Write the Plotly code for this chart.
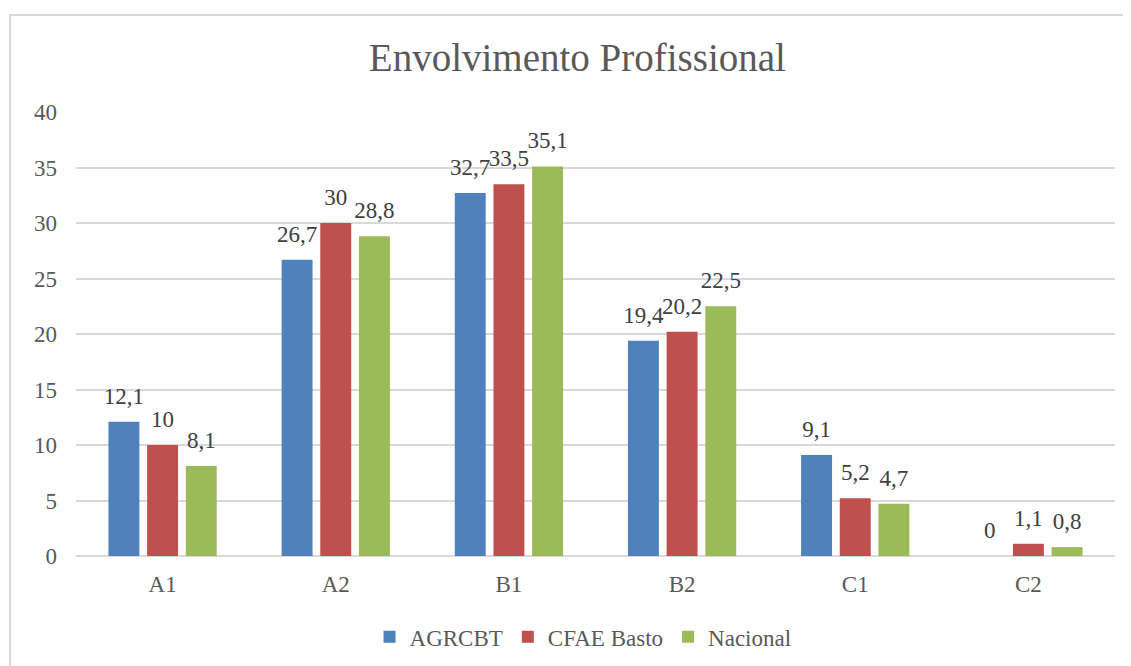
import plotly.graph_objects as go

categories = ["A1", "A2", "B1", "B2", "C1", "C2"]
agrcbt = [12.1, 26.7, 32.7, 19.4, 9.1, 0]
cfae = [10, 30, 33.5, 20.2, 5.2, 1.1]
nacional = [8.1, 28.8, 35.1, 22.5, 4.7, 0.8]
series = [("AGRCBT", agrcbt, "#4F81BD"), ("CFAE Basto", cfae, "#C0504D"), ("Nacional", nacional, "#9BBB59")]

FONT = "Liberation Serif"

fig = go.Figure()
for i, (name, vals, col) in enumerate(series):
    fig.add_trace(go.Bar(
        x=categories, y=vals, name=name, marker_color=col, marker_line_width=0,
        offsetgroup=str(i),
    ))
for i, (name, vals, col) in enumerate(series):
    fig.add_trace(go.Scatter(
        x=categories, y=vals, mode="markers+text", showlegend=False, hoverinfo="skip",
        offsetgroup=str(i),
        marker=dict(size=18, color="rgba(0,0,0,0)"),
        text=[f"{v:g}".replace(".", ",") for v in vals],
        textposition="top center", cliponaxis=False,
        textfont=dict(family=FONT, size=23, color="#404040"),
    ))

fig.update_layout(
    width=1123, height=658,
    font=dict(family=FONT, color="#595959"),
    margin=dict(l=68, r=16, t=104, b=110, autoexpand=False),
    paper_bgcolor="white", plot_bgcolor="white",
    title=dict(text="Envolvimento Profissional", x=0.507, xanchor="center", y=0.925, yanchor="middle",
               font=dict(family=FONT, size=39, color="#595959")),
    barmode="group", bargap=0.33, bargroupgap=0.2,
    scattermode="group", scattergap=0.33,
    xaxis=dict(showgrid=False, showline=False, ticks="", ticklabelstandoff=12,
               tickfont=dict(family=FONT, size=23, color="#595959")),
    yaxis=dict(range=[0, 40], dtick=5, showgrid=True, gridcolor="#D9D9D9", gridwidth=2,
               zeroline=True, zerolinecolor="#D9D9D9", zerolinewidth=2, showline=False,
               tickfont=dict(family=FONT, size=23, color="#595959"), ticklabelstandoff=18),
    legend=dict(orientation="h", x=0.488, xanchor="center", y=-0.182, yanchor="middle",
                font=dict(family="Liberation Serif, serif", size=23, color="#595959"),
                itemwidth=30, tracegroupgap=0),
    showlegend=True,
    shapes=[dict(type="rect", xref="paper", yref="paper", x0=-0.0635, x1=1.2, y0=-0.5, y1=1.2185,
                 line=dict(color="#D9D9D9", width=2), fillcolor="rgba(0,0,0,0)", layer="below")],
)

fig.write_html("out.html")
